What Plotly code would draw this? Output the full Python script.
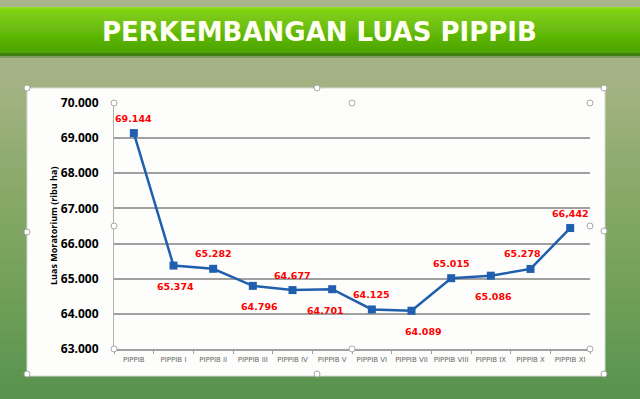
import plotly.graph_objects as go

# ---- data ----
categories = ["PIPPIB", "PIPPIB I", "PIPPIB II", "PIPPIB III", "PIPPIB IV", "PIPPIB V",
              "PIPPIB VI", "PIPPIB VII", "PIPPIB VIII", "PIPPIB IX", "PIPPIB X", "PIPPIB XI"]
luas = [69.144, 65.374, 65.282, 64.796, 64.677, 64.701, 64.125, 64.089, 65.015, 65.086, 65.278, 66.442]
label_text = ["69.144", "65.374", "65.282", "64.796", "64.677", "64.701",
              "64.125", "64.089", "65.015", "65.086", "65.278", "66,442"]
label_side = ["above", "below", "above", "below", "above", "below",
              "above", "below", "above", "below", "above", "above"]
label_dx = [0, 2, 0, 7, 0, -7, 0, 12, 0, 3, -8, 0]
y_tickvals = [63, 64, 65, 66, 67, 68, 69, 70]
y_ticktext = ["63.000", "64.000", "65.000", "66.000", "67.000", "68.000", "69.000", "70.000"]
title_text = "PERKEMBANGAN LUAS PIPPIB"
y_title = "Luas Moratorium (ribu ha)"

W, H = 640, 399
ML, MR, MT, MB = 114, 50, 103, 50
PW, PH = W - ML - MR, H - MT - MB


def px(x):
    return (x - ML) / PW


def py(y):
    return (H - MB - y) / PH


def lerp_hex(c1, c2, t):
    a = [int(c1[i:i + 2], 16) for i in (1, 3, 5)]
    b = [int(c2[i:i + 2], 16) for i in (1, 3, 5)]
    return "#%02x%02x%02x" % tuple(round(a[k] + (b[k] - a[k]) * t) for k in range(3))


def grad_color(stops, ym):
    col = stops[-1][1]
    if ym <= stops[0][0]:
        return stops[0][1]
    for j in range(len(stops) - 1):
        if stops[j][0] <= ym <= stops[j + 1][0]:
            t = (ym - stops[j][0]) / (stops[j + 1][0] - stops[j][0])
            col = lerp_hex(stops[j][1], stops[j + 1][1], t)
    return col


shapes = []
# background bands (slide backdrop)
bg_stops = [(0, "#a9b58d"), (90, "#a2b282"), (200, "#86a866"), (300, "#6e9f58"), (399, "#58924e")]
n = 40
for i in range(n):
    y0 = H * i / n
    y1 = H * (i + 1) / n + 0.5
    col = grad_color(bg_stops, (y0 + y1) / 2)
    shapes.append(dict(type="rect", xref="paper", yref="paper", layer="below",
                       x0=px(0), x1=px(W), y0=py(y1), y1=py(y0),
                       fillcolor=col, line=dict(width=0)))

# header bar gradient
bar_stops = [(7, "#9be22a"), (10, "#7fd40c"), (30, "#62be00"), (52, "#4ea400")]
for i in range(45):
    y0 = 7 + 46 * i / 45
    y1 = 7 + 46 * (i + 1) / 45 + 0.3
    col = grad_color(bar_stops, (y0 + y1) / 2)
    shapes.append(dict(type="rect", xref="paper", yref="paper", layer="below",
                       x0=px(0), x1=px(W), y0=py(y1), y1=py(y0),
                       fillcolor=col, line=dict(width=0)))
shapes.append(dict(type="rect", xref="paper", yref="paper", layer="below",
                   x0=px(0), x1=px(W), y0=py(56), y1=py(53),
                   fillcolor="#3f7f12", line=dict(width=0)))
shapes.append(dict(type="rect", xref="paper", yref="paper", layer="below",
                   x0=px(0), x1=px(W), y0=py(58), y1=py(56),
                   fillcolor="#7f9a62", line=dict(width=0)))

# chart white box
shapes.append(dict(type="rect", xref="paper", yref="paper", layer="below",
                   x0=px(27), x1=px(605), y0=py(376), y1=py(88),
                   fillcolor="#fdfdfb", line=dict(color="#d8d8d8", width=1)))

# selection handles
handles = [(27, 88), (317, 88), (604, 88), (27, 232), (604, 231), (27, 374), (317, 374), (604, 374),
           (114, 103), (352, 103), (590, 103), (114, 226), (590, 226), (114, 349), (352, 349), (590, 349)]
for hx, hy in handles:
    r = 3
    shapes.append(dict(type="circle", xref="paper", yref="paper", layer="above",
                       x0=px(hx - r), x1=px(hx + r), y0=py(hy + r), y1=py(hy - r),
                       fillcolor="white", line=dict(color="#a8a8a8", width=1)))

fig = go.Figure()
fig.add_trace(go.Scatter(
    x=categories, y=luas, mode="lines+markers",
    line=dict(color="#1f5fae", width=2.5),
    marker=dict(symbol="square", size=8, color="#1f5fae"),
    hoverinfo="skip", showlegend=False, cliponaxis=False,
))

annotations = []
for c, v, t, s, dx in zip(categories, luas, label_text, label_side, label_dx):
    annotations.append(dict(
        x=c, y=v, text=t, showarrow=False, xshift=dx,
        yshift=15 if s == "above" else -21,
        font=dict(family="DejaVu Sans", size=9.5, color="#ff0000", weight="bold"),
    ))
annotations.append(dict(
    x=px(319), y=py(32), xref="paper", yref="paper", text=title_text, showarrow=False,
    xanchor="center", yanchor="middle",
    font=dict(family="DejaVu Sans", size=26, color="#fffff2", weight="bold"),
))
annotations.append(dict(
    x=px(53), y=py(226), xref="paper", yref="paper", text=y_title, showarrow=False,
    xanchor="center", yanchor="middle",
    textangle=-90, font=dict(family="Open Sans", size=9, color="#000000", weight="bold"),
))

fig.update_layout(
    width=W, height=H,
    margin=dict(l=ML, r=MR, t=MT, b=MB, pad=0, autoexpand=False),
    paper_bgcolor="#a3b283", plot_bgcolor="rgba(0,0,0,0)",
    shapes=shapes, annotations=annotations,
    xaxis=dict(
        type="category", range=[-0.5, 11.5], showgrid=False, zeroline=False,
        showline=True, linecolor="#a0a0a0", linewidth=1.5,
        ticks="outside", tickson="boundaries", ticklen=3, tickcolor="#a0a0a0",
        tickfont=dict(family="DejaVu Sans", size=7, color="#666666"),
        tickangle=0, automargin=False,
        ticklabelstandoff=3, fixedrange=True,
    ),
    yaxis=dict(
        range=[63, 70], tickvals=y_tickvals, ticktext=y_ticktext,
        showgrid=True, gridcolor="#a0a0a0", gridwidth=1.5, zeroline=False,
        showline=True, linecolor="#b0b0b0", linewidth=1,
        ticks="", ticklabelstandoff=12, automargin=False,
        tickfont=dict(family="Open Sans", size=12, color="#000000", weight="bold"),
        fixedrange=True,
    ),
)

fig.write_html("out.html", config={"displayModeBar": False},
               post_script="document.body.style.margin='0';document.body.style.overflow='hidden';")
